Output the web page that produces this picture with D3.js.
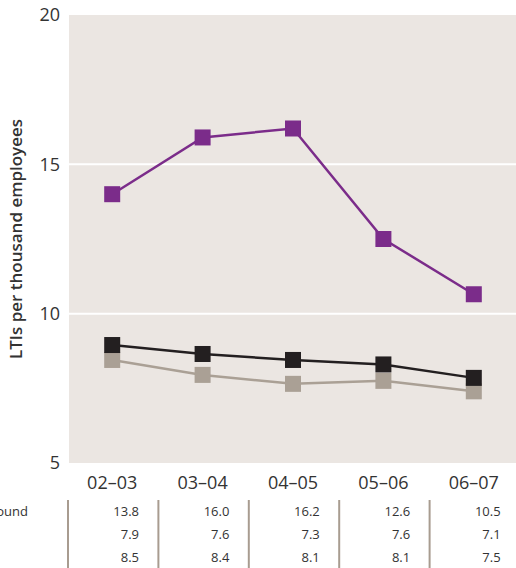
<!DOCTYPE html>
<html><head><meta charset="utf-8">
<script src="https://cdn.jsdelivr.net/npm/d3@7"></script>
<style>body{margin:0;background:#fff;font-family:"Open Sans",sans-serif}</style>
</head><body><div id="chart"></div>
<script>
const years = ["02–03", "03–04", "04–05", "05–06", "06–07"];
const purpleVals = [14.0, 15.9, 16.2, 12.5, 10.65];
const blackVals = [8.95, 8.65, 8.45, 8.3, 7.85];
const greyVals = [8.45, 7.95, 7.65, 7.75, 7.4];
const yTicks = [5, 10, 15, 20];
const tableRows = [
  ["13.8", "16.0", "16.2", "12.6", "10.5"],
  ["7.9", "7.6", "7.3", "7.6", "7.1"],
  ["8.5", "8.4", "8.1", "8.1", "7.5"]
];
const rowLabels = ["Underground", "", ""];

const W = 516, H = 568;
const svg = d3.select("#chart").append("svg").attr("width", W).attr("height", H);

const x = d3.scaleBand().domain(years).range([67, 519]);
const y = d3.scaleLinear().domain([5, 20]).range([463, 15]);
const cx = d => x(d) + x.bandwidth() / 2;

// plot background, with white gaps at the grid lines
svg.append("rect").attr("x", 69).attr("y", y(20)).attr("width", W - 69)
  .attr("height", y(5) - y(20)).attr("fill", "#ebe6e2");
svg.selectAll(".grid").data([10, 15]).enter().append("line")
  .attr("x1", 69).attr("x2", W).attr("y1", d => y(d)).attr("y2", d => y(d))
  .attr("stroke", "#fff").attr("stroke-width", 2);

// y ticks
svg.selectAll(".yt").data(yTicks).enter().append("text")
  .attr("x", 60).attr("y", d => y(d)).attr("dy", "0.35em")
  .attr("text-anchor", "end").attr("font-size", 18).attr("fill", "#333")
  .text(d => d);

svg.append("text").attr("transform", `translate(22,${y(12.5)}) rotate(-90)`)
  .attr("text-anchor", "middle").attr("font-size", 17).attr("font-weight", 600)
  .attr("fill", "#333").text("LTIs per thousand employees");

// x labels
svg.selectAll(".xt").data(years).enter().append("text")
  .attr("x", cx).attr("y", 483).attr("dy", "0.35em")
  .attr("text-anchor", "middle").attr("font-size", 18).attr("fill", "#333")
  .text(d => d);

// series
const series = [
  { vals: greyVals, color: "#aaa095" },
  { vals: blackVals, color: "#231f20" },
  { vals: purpleVals, color: "#7b2c8a" }
];
const line = d3.line().x((d, i) => cx(years[i])).y(d => y(d));
series.forEach(s => {
  svg.append("path").datum(s.vals).attr("d", line)
    .attr("fill", "none").attr("stroke", s.color).attr("stroke-width", 2.5);
  svg.selectAll(null).data(s.vals).enter().append("rect")
    .attr("x", (d, i) => cx(years[i]) - 8).attr("y", d => y(d) - 8)
    .attr("width", 16).attr("height", 16).attr("fill", s.color);
});

// table
const rowY = [511, 534, 557];
svg.selectAll(".sep").data(years).enter().append("line")
  .attr("x1", d => x(d) + 1).attr("x2", d => x(d) + 1)
  .attr("y1", 500).attr("y2", 568).attr("stroke", "#a89c90").attr("stroke-width", 2);
tableRows.forEach((row, r) => {
  svg.selectAll(null).data(row).enter().append("text")
    .attr("x", (d, i) => x(years[i]) + 72).attr("y", rowY[r]).attr("dy", "0.35em")
    .attr("text-anchor", "end").attr("font-size", 13).attr("fill", "#333")
    .text(d => d);
  svg.append("text").attr("x", 28).attr("y", rowY[r]).attr("dy", "0.35em")
    .attr("text-anchor", "end").attr("font-size", 13).attr("fill", "#333")
    .text(rowLabels[r]);
});
</script></body></html>
